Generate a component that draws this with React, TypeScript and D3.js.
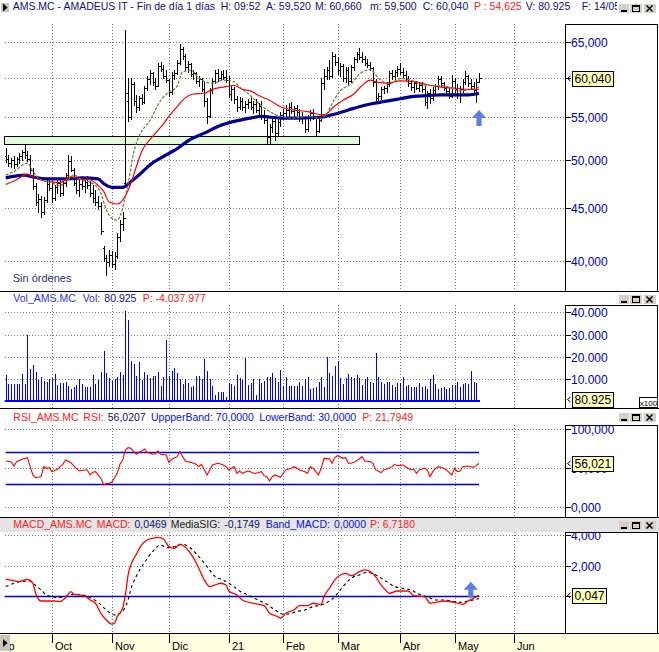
import React, { useEffect, useRef } from 'react';
import * as d3 from 'd3';

// bar 0 = 08/09/2020 ... last bar = 14/05/2021 (daily bars)
const monthLabels = ['Sep', 'Oct', 'Nov', 'Dic', '21', 'Feb', 'Mar', 'Abr', 'May', 'Jun'];
const monthStarts = [-5, 17, 39, 60, 82, 102, 122, 145, 165, 187];

// [open, high, low, close] in euros
const priceBars: number[][] = [
  [50.5, 51.4, 49.8, 50.2], [50.2, 50.6, 49.4, 49.7], [49.7, 50.3, 49.3, 50.0], [50.0, 50.5, 49.2, 49.6],
  [49.6, 50.4, 49.4, 50.1], [50.1, 50.8, 49.7, 50.5], [50.5, 51.2, 50.0, 50.9], [50.9, 51.7, 50.3, 50.6],
  [50.6, 51.0, 49.9, 50.2], [50.2, 50.6, 48.6, 48.9], [48.9, 49.2, 46.9, 47.2], [47.2, 47.6, 45.3, 45.6],
  [45.6, 46.4, 44.6, 45.9], [45.9, 46.2, 44.1, 44.6], [44.6, 46.1, 44.4, 45.8], [45.8, 47.9, 45.6, 47.5],
  [47.5, 48.2, 46.8, 47.0], [47.0, 47.8, 45.6, 46.0], [46.0, 47.3, 45.8, 47.1], [47.1, 47.9, 46.5, 47.6],
  [47.6, 48.0, 46.2, 46.5], [46.5, 47.8, 46.3, 47.6], [47.6, 48.6, 47.2, 48.4], [48.4, 50.6, 48.2, 49.9],
  [49.9, 50.5, 48.8, 49.0], [49.0, 49.2, 47.4, 47.6], [47.6, 48.2, 46.5, 46.8], [46.8, 47.9, 46.2, 47.5],
  [47.5, 48.1, 46.9, 47.2], [47.2, 47.9, 46.6, 47.7], [47.7, 48.3, 47.0, 47.3], [47.3, 47.8, 46.2, 46.5],
  [46.5, 47.4, 45.6, 46.0], [46.0, 46.8, 45.3, 45.6], [45.6, 46.2, 44.9, 45.2], [45.2, 45.6, 42.5, 42.8],
  [41.2, 41.4, 40.0, 40.3], [40.3, 40.6, 38.8, 39.9], [39.9, 41.0, 39.6, 40.6], [40.6, 40.9, 39.5, 39.8],
  [39.8, 40.8, 39.3, 40.5], [40.5, 42.6, 40.3, 42.2], [42.2, 43.8, 41.8, 43.4], [43.4, 44.6, 42.9, 44.0],
  [47.6, 66.7, 47.4, 58.0], [57.0, 60.0, 54.5, 55.0], [55.0, 60.0, 54.8, 59.2], [59.2, 59.4, 56.5, 57.0],
  [57.0, 57.8, 55.6, 56.2], [56.2, 57.7, 55.9, 57.4], [57.4, 57.9, 56.6, 56.9], [56.9, 59.0, 56.8, 58.7],
  [58.7, 60.2, 58.4, 59.8], [59.8, 61.0, 59.2, 60.6], [60.6, 60.8, 59.1, 59.5], [59.5, 60.0, 58.6, 59.0],
  [59.0, 62.0, 58.9, 61.6], [61.6, 62.1, 60.9, 61.2], [61.2, 61.8, 60.0, 60.3], [60.3, 61.0, 59.4, 59.7],
  [59.7, 59.9, 57.6, 58.1], [58.1, 60.8, 57.9, 60.4], [60.4, 61.0, 59.9, 60.7], [60.7, 62.4, 60.5, 62.0],
  [62.0, 64.6, 61.9, 63.9], [63.9, 64.3, 62.5, 63.0], [63.0, 63.2, 61.0, 61.4], [61.4, 62.3, 60.8, 61.9],
  [61.9, 62.0, 60.2, 60.5], [60.5, 61.0, 59.8, 60.6], [60.6, 60.8, 59.3, 59.6], [59.6, 60.2, 59.0, 59.8],
  [59.8, 60.0, 58.3, 58.6], [58.6, 59.4, 56.4, 57.0], [57.0, 57.4, 54.3, 55.2], [55.2, 58.7, 55.0, 58.4],
  [58.4, 60.0, 58.0, 59.6], [59.6, 61.0, 59.3, 60.7], [60.7, 61.2, 59.6, 60.0], [60.0, 60.9, 59.7, 60.5],
  [60.5, 61.1, 59.8, 60.1], [60.1, 61.0, 59.4, 59.7], [59.7, 60.3, 57.5, 57.9], [57.9, 59.0, 57.2, 58.5],
  [58.5, 58.8, 56.8, 57.3], [57.3, 57.6, 55.8, 56.3], [56.3, 57.5, 56.0, 57.0], [57.0, 57.4, 55.9, 56.2],
  [56.2, 57.0, 55.6, 56.6], [56.6, 57.3, 56.1, 56.9], [56.9, 57.6, 56.0, 56.3], [56.3, 57.0, 55.5, 56.6],
  [56.6, 57.3, 55.6, 55.9], [55.9, 56.8, 55.4, 56.4], [56.4, 57.0, 54.8, 55.1], [55.1, 55.9, 54.3, 54.7],
  [54.7, 55.0, 51.9, 52.6], [52.6, 54.2, 52.0, 53.8], [53.8, 55.2, 53.2, 54.6], [54.6, 55.0, 52.3, 53.1],
  [53.1, 54.8, 52.9, 54.4], [54.4, 55.6, 54.0, 55.3], [55.3, 56.0, 54.8, 55.5], [55.5, 56.5, 55.1, 55.9],
  [55.9, 56.7, 55.2, 56.3], [56.3, 56.9, 55.5, 55.8], [55.8, 56.4, 55.0, 56.1], [56.1, 56.5, 55.3, 55.6],
  [55.6, 56.0, 54.6, 55.0], [55.0, 55.6, 54.3, 54.9], [54.9, 55.2, 53.2, 53.6], [53.6, 55.3, 53.4, 55.0],
  [55.0, 55.9, 54.7, 55.5], [55.5, 56.0, 54.8, 55.1], [55.1, 55.2, 52.9, 53.4], [53.4, 55.0, 53.2, 54.7],
  [54.7, 60.0, 54.5, 59.3], [59.3, 61.2, 58.5, 60.2], [60.2, 61.5, 59.8, 61.0], [61.0, 62.4, 59.9, 60.3],
  [60.3, 63.5, 60.1, 63.0], [63.0, 63.3, 61.8, 62.2], [62.2, 62.8, 60.5, 61.0], [61.0, 62.0, 60.2, 61.6],
  [61.6, 61.9, 59.6, 60.0], [60.0, 61.4, 59.5, 61.0], [61.0, 61.5, 59.2, 59.6], [59.6, 61.7, 59.4, 61.4],
  [61.4, 62.9, 61.1, 62.6], [62.6, 63.6, 62.1, 63.3], [63.3, 64.1, 62.5, 62.8], [62.8, 63.5, 62.2, 62.6],
  [62.6, 63.0, 61.7, 62.0], [62.0, 62.6, 61.5, 61.8], [61.8, 62.2, 61.0, 61.3], [61.3, 61.4, 59.0, 59.4],
  [59.4, 59.8, 57.0, 57.4], [57.4, 58.0, 56.7, 57.6], [57.6, 58.8, 57.3, 58.5], [58.5, 59.0, 58.0, 58.7],
  [58.7, 59.5, 58.2, 59.2], [59.2, 60.9, 59.0, 60.6], [60.6, 61.1, 59.9, 60.3], [60.3, 61.0, 59.8, 60.8],
  [60.8, 61.6, 60.3, 61.2], [61.2, 62.0, 60.5, 60.8], [60.8, 61.3, 60.1, 60.4], [60.4, 60.9, 59.6, 59.9],
  [59.9, 60.3, 59.0, 59.3], [59.3, 59.7, 58.4, 58.8], [58.8, 59.6, 58.2, 59.3], [59.3, 59.6, 58.5, 58.7],
  [58.7, 59.5, 58.3, 59.1], [59.1, 59.4, 58.1, 58.5], [58.5, 59.0, 56.5, 56.9], [56.9, 58.3, 56.1, 58.0],
  [58.0, 58.6, 56.8, 57.4], [57.4, 58.8, 57.2, 58.4], [58.4, 59.2, 58.0, 58.9], [58.9, 60.3, 58.6, 59.9],
  [59.9, 60.2, 59.0, 59.3], [59.3, 59.5, 58.4, 58.7], [58.7, 59.0, 57.8, 58.3], [58.3, 58.7, 57.4, 57.7],
  [57.7, 60.4, 57.5, 59.6], [59.6, 60.0, 58.2, 58.6], [58.6, 59.2, 57.4, 57.8], [57.8, 58.9, 56.9, 58.5],
  [58.5, 59.9, 58.2, 59.5], [59.5, 60.9, 59.2, 60.2], [60.2, 60.4, 59.0, 59.3], [59.3, 59.9, 58.6, 59.0],
  [59.0, 59.5, 58.0, 58.4], [58.4, 59.8, 56.9, 59.5], [59.52, 60.66, 59.5, 60.04],
];

// moving averages, [bar, value]
const maFast = [
  [0, 48.4], [3, 48.8], [8, 49.7], [10, 48.8], [13, 47.9], [16, 47.7], [20, 47.3], [23, 47.9], [25, 48.4],
  [28, 47.9], [32, 47.5], [35, 46.5], [37, 44.8], [39, 44.0], [41, 43.8], [42, 44.2], [45, 47.5], [47, 50.8],
  [49, 52.7], [53, 54.6], [57, 57.1], [59, 57.9], [63, 58.9], [65, 60.8], [68, 61.0], [71, 60.0], [74, 59.4],
  [76, 59.3], [80, 59.7], [84, 59.5], [86, 58.8], [90, 57.7], [93, 56.7], [97, 55.7], [101, 55.1], [106, 54.9],
  [111, 55.1], [116, 54.9], [118, 55.4], [120, 56.7], [123, 58.3], [127, 59.2], [130, 60.5], [134, 61.1],
  [137, 60.0], [141, 59.2], [145, 59.9], [149, 59.7], [152, 59.2], [156, 59.0], [160, 59.0], [163, 58.8],
  [167, 58.3], [171, 58.5], [174, 58.8],
];
const maMid = [
  [0, 47.4], [4, 47.9], [8, 48.5], [10, 48.2], [14, 47.8], [16, 47.7], [20, 47.6], [24, 48.2], [27, 48.0],
  [31, 47.9], [34, 47.3], [36, 46.7], [38, 45.6], [41, 45.4], [43, 45.8], [46, 47.5], [48, 49.3], [50, 51.0],
  [54, 52.7], [58, 54.2], [60, 55.1], [63, 56.3], [65, 57.1], [69, 57.9], [73, 58.0], [76, 58.5], [80, 58.8],
  [84, 59.0], [87, 58.5], [90, 58.3], [93, 57.7], [97, 57.1], [101, 56.3], [106, 55.9], [111, 55.7],
  [116, 55.3], [118, 55.4], [120, 56.1], [124, 57.1], [128, 57.9], [131, 59.0], [134, 59.7], [136, 59.5],
  [140, 59.3], [145, 59.6], [150, 59.5], [155, 59.1], [160, 58.8], [164, 58.7], [170, 58.5], [174, 58.5],
];
const maSlow = [
  [0, 48.1], [7, 48.4], [10, 48.2], [16, 48.0], [23, 48.0], [28, 48.1], [34, 48.0], [36, 47.5], [39, 47.1],
  [43, 47.1], [46, 47.7], [49, 48.4], [53, 49.5], [59, 50.6], [63, 51.3], [68, 52.4], [73, 53.1], [78, 53.9],
  [84, 54.5], [90, 54.9], [94, 55.1], [101, 54.9], [108, 54.9], [116, 55.0], [120, 55.3], [126, 55.9],
  [130, 56.3], [135, 56.7], [140, 57.0], [145, 57.3], [150, 57.6], [155, 57.7], [160, 57.8], [164, 57.8],
  [170, 57.8], [174, 58.0],
];
const supportZone = [51.9, 52.75];
const zoneEndBar = 130;
const priceTicks = [40, 45, 50, 55, 60, 65];

// volume, thousands (axis x100)
const volumes = [
  11.9, 7.9, 7.9, 7.9, 7.9, 7.9, 12.4, 7.9, 29.9, 14.6, 16.4, 13.4, 9.7, 10.9, 9.4, 8.9, 10.3, 10.4, 12.4, 7.4,
  8.2, 8.2, 8.9, 7.0, 5.7, 6.7, 7.4, 10.0, 7.9, 6.4, 6.4, 6.4, 11.9, 7.7, 9.7, 13.4, 22.8, 12.7, 10.4, 9.4,
  10.0, 11.2, 13.4, 11.9, 40.6, 36.6, 18.3, 16.9, 11.5, 17.9, 9.7, 13.4, 11.9, 10.4, 11.5, 11.5, 13.4, 7.0, 10.9, 27.6,
  11.5, 13.9, 15.2, 13.0, 10.0, 7.9, 10.0, 8.5, 6.7, 7.0, 11.5, 11.5, 10.0, 19.1, 13.9, 10.0, 7.0, 3.0, 4.3, 4.3,
  4.3, 2.2, 8.5, 7.9, 7.0, 11.9, 10.4, 9.7, 19.7, 7.4, 8.2, 10.0, 3.0, 10.0, 8.2, 9.4, 10.9, 11.2, 13.0, 10.4,
  8.9, 14.2, 7.0, 11.2, 7.0, 7.0, 7.0, 7.0, 8.9, 7.0, 10.0, 10.9, 5.7, 6.0, 6.7, 8.9, 10.9, 6.4, 20.2, 13.0,
  11.5, 16.0, 18.4, 10.4, 7.9, 10.4, 12.4, 10.9, 10.4, 11.9, 10.4, 7.4, 10.0, 10.9, 8.6, 8.2, 21.6, 10.9, 8.6, 7.9,
  8.6, 8.6, 7.4, 6.4, 8.2, 8.2, 10.9, 7.0, 7.4, 6.4, 6.4, 6.7, 8.2, 6.4, 7.0, 5.5, 10.0, 11.9, 7.9, 5.5,
  6.0, 6.7, 5.5, 6.0, 7.4, 7.4, 8.9, 6.4, 7.9, 8.5, 7.9, 13.9, 8.6, 8.5, 0.8,
];
const volumeTicks = [10, 20, 30, 40];

const rsiPoints = [
  [0, 59.1], [2, 58.3], [3, 52.8], [4, 58.3], [6, 61.3], [8, 63.4], [9, 51.9], [10, 41.3], [11, 37.8], [13, 39.1],
  [14, 51.9], [15, 49.8], [16, 50.6], [17, 45.5], [19, 48.5], [20, 51.9], [21, 54.9], [22, 60.4], [24, 57.0],
  [25, 52.8], [26, 49.8], [27, 46.4], [29, 47.7], [30, 47.7], [31, 41.3], [32, 44.7], [33, 45.5], [35, 37.0],
  [36, 28.5], [37, 30.2], [38, 30.6], [39, 31.9], [41, 43.4], [42, 54.9], [43, 60.4], [44, 73.2], [45, 76.2],
  [46, 75.4], [48, 67.7], [49, 70.2], [50, 71.9], [51, 74.5], [52, 70.2], [54, 67.7], [55, 68.5], [56, 71.9],
  [57, 67.7], [59, 66.8], [60, 57.4], [61, 61.3], [63, 64.7], [64, 71.1], [66, 59.1], [68, 57.4], [70, 54.9],
  [71, 51.9], [72, 54.9], [74, 41.3], [75, 47.7], [76, 54.0], [78, 56.2], [79, 55.3], [80, 54.0], [81, 51.9],
  [82, 47.7], [84, 51.9], [85, 43.4], [86, 46.4], [87, 43.4], [89, 46.4], [90, 45.5], [91, 43.4], [92, 43.4],
  [94, 45.5], [95, 40.4], [96, 39.1], [97, 33.6], [98, 39.1], [99, 41.3], [101, 38.3], [102, 43.4], [103, 47.7],
  [105, 49.8], [106, 51.9], [107, 49.8], [108, 47.7], [110, 45.5], [111, 43.4], [112, 51.9], [113, 49.8],
  [114, 45.5], [115, 41.3], [116, 49.8], [117, 62.5], [119, 62.0], [120, 56.2], [121, 63.4], [122, 65.9],
  [124, 62.5], [125, 63.4], [126, 56.2], [127, 56.2], [128, 57.4], [130, 61.7], [131, 64.7], [132, 59.1],
  [134, 58.3], [135, 56.2], [136, 47.7], [138, 44.3], [139, 47.7], [141, 49.8], [142, 51.9], [143, 54.9],
  [144, 53.2], [146, 54.0], [147, 51.9], [149, 47.7], [150, 48.9], [151, 43.4], [152, 47.7], [154, 49.8],
  [155, 47.7], [156, 39.1], [157, 45.5], [158, 49.8], [159, 51.9], [161, 49.8], [162, 47.7], [164, 41.3],
  [165, 49.8], [166, 45.5], [167, 46.4], [168, 51.9], [170, 52.8], [171, 51.9], [172, 51.0], [173, 53.5],
  [174, 56.0207],
];
const rsiBands = [70, 30];
const rsiTicks = [0, 50, 100];

const macdPoints = [
  [0, 1.12], [3, 1.01], [5, 0.95], [8, 1.10], [10, 0.84], [11, 0.18], [13, -0.33], [15, -0.33], [18, -0.33],
  [20, -0.37], [22, -0.11], [24, 0.29], [25, 0.11], [27, 0.07], [29, 0.0], [31, -0.26], [33, -0.48], [35, -1.14],
  [37, -1.58], [39, -1.85], [40, -1.80], [41, -1.36], [43, -0.81], [44, 0.07], [45, 1.39], [46, 2.05], [48, 2.75],
  [50, 3.37], [52, 3.70], [54, 3.81], [56, 3.87], [58, 3.76], [60, 3.26], [62, 3.15], [64, 3.41], [67, 3.04],
  [69, 2.53], [71, 1.83], [73, 1.06], [75, 0.62], [77, 0.73], [79, 0.84], [81, 0.73], [82, 0.33], [85, 0.07],
  [87, -0.26], [91, -0.48], [95, -0.64], [97, -1.14], [100, -1.36], [101, -1.47], [103, -1.14], [106, -0.92],
  [108, -0.64], [111, -0.64], [113, -0.48], [116, -0.55], [117, -0.04], [119, 0.5], [121, 1.06], [123, 1.39],
  [125, 1.50], [127, 1.34], [128, 1.39], [130, 1.61], [132, 1.72], [134, 1.61], [136, 1.28], [138, 0.73],
  [140, 0.33], [141, 0.18], [144, 0.33], [146, 0.33], [148, 0.33], [150, 0.02], [154, -0.04], [156, -0.48],
  [158, -0.42], [161, -0.33], [165, -0.42], [168, -0.55], [170, -0.33], [172, -0.15], [174, 0.0469],
];
const signalPoints = [
  [0, 0.62], [3, 0.84], [5, 0.95], [9, 0.99], [10, 0.84], [13, 0.40], [15, 0.07], [19, -0.11], [22, -0.04],
  [25, 0.11], [28, 0.07], [31, -0.11], [34, -0.42], [37, -0.92], [40, -1.25], [42, -1.14], [45, -0.26],
  [46, 0.45], [48, 1.3], [51, 2.2], [54, 2.93], [57, 3.37], [59, 3.19], [62, 3.26], [65, 3.41], [68, 3.15],
  [71, 2.60], [74, 1.94], [77, 1.28], [80, 1.06], [83, 0.73], [86, 0.33], [89, 0.07], [92, -0.20], [96, -0.55],
  [99, -0.92], [102, -1.21], [105, -1.14], [107, -1.03], [110, -0.92], [113, -0.70], [116, -0.59], [119, -0.33],
  [121, -0.04], [124, 0.62], [127, 1.17], [130, 1.39], [133, 1.56], [136, 1.39], [140, 0.95], [143, 0.62],
  [146, 0.51], [149, 0.40], [152, 0.11], [155, -0.04], [158, -0.26], [161, -0.26], [164, -0.33], [167, -0.42],
  [170, -0.33], [174, -0.17],
];
const macdTicks = [0, 2, 4];

// buy-signal arrows: [bar, value at arrow tip]
const priceSignals = [[174, 55.9]];
const macdSignals = [[171, 0.94]];

// header texts: [text, x, colour]
const NAVY = '#10107a';
const RED = '#ff2020';
const BLUE = '#1010e0';
const mainHeader = [
  ['AMS.MC - AMADEUS IT - Fin de día 1 días', 12.7, NAVY], ['H: 09:52', 220.7, NAVY], ['A: 59,520', 266, NAVY],
  ['M: 60,660', 311.7, NAVY], ['m: 59,500', 370, NAVY], ['C: 60,040', 422.7, NAVY], ['P : 54,625', 474, RED],
  ['V: 80.925', 519.3, NAVY], ['F: 14/05', 581.7, NAVY],
];
const volHeader = [['Vol_AMS.MC', 13.3, '#3434e0'], ['Vol:', 82.7, '#3434e0'], ['80.925', 104.3, NAVY], ['P: -4.037.977', 142.7, RED]];
const rsiHeader = [
  ['RSI_AMS.MC', 13.3, RED], ['RSI:', 83.3, RED], ['56,0207', 106, NAVY], ['UppperBand: 70,0000', 151, BLUE],
  ['LowerBand: 30,0000', 259.3, BLUE], ['P: 21,7949', 362.3, RED],
];
const macdHeader = [
  ['MACD_AMS.MC', 13.3, RED], ['MACD:', 96.7, RED], ['0,0469', 132.7, NAVY], ['MediaSIG:', 170.7, '#202020'],
  ['-0,1749', 213.3, NAVY], ['Band_MACD:', 265.7, BLUE], ['0,0000', 331.7, BLUE], ['P: 6,7180', 370, RED],
];

const FONT = '"Liberation Sans", Arial, sans-serif';

const App = () => {
  const svgRef = useRef<SVGSVGElement | null>(null);

  useEffect(() => {
    const svg = d3.select(svgRef.current);
    svg.selectAll('*').remove();

    const es = d3.formatLocale({ decimal: ',', thousands: '.', grouping: [3], currency: ['', ''] });
    const f3 = es.format(',.3f');
    const f0 = es.format(',.0f');

    const N = priceBars.length;
    const x = d3.scaleLinear().domain([0, N - 1]).range([5.7, 479]);
    const cx = (i: number) => Math.round(x(i)) + 0.5;
    const snap = (v: number) => Math.round(v) + 0.5;

    const yPrice = d3.scaleLog().domain([40, 65]).range([261.3, 41.7]);
    const yVol = d3.scaleLinear().domain([0, 40]).range([401.6, 312.3]);
    const yRsi = d3.scaleLinear().domain([0, 100]).range([507.3, 429]);
    const yMacd = d3.scaleLinear().domain([0, 4]).range([596, 535.4]);

    const AXIS_X = 565.5;
    const RIGHT = 657.5;
    const PLOT_L = 5;

    const panels = [
      { top: 24, bottom: 291, btn: 4 },
      { top: 305, bottom: 408, btn: 295 },
      { top: 425, bottom: 517, btn: 413 },
      { top: 532, bottom: 633, btn: 521 },
    ];

    svg.append('rect').attr('width', 659).attr('height', 652).attr('fill', '#fff');
    // active panel title band (MACD)
    svg.append('rect').attr('x', 0).attr('y', 518).attr('width', 659).attr('height', 14).attr('fill', '#e4e4e4');

    // --- GRID ---
    const grid = svg.append('g')
      .attr('stroke', '#808080').attr('stroke-dasharray', '1,2').attr('shape-rendering', 'crispEdges');
    panels.forEach(p => {
      monthStarts.forEach(m => {
        if (m < 0) return;
        grid.append('line').attr('x1', cx(m)).attr('x2', cx(m)).attr('y1', p.top).attr('y2', p.bottom);
      });
    });
    const hGrid = (yv: number) => grid.append('line')
      .attr('x1', PLOT_L).attr('x2', AXIS_X).attr('y1', snap(yv)).attr('y2', snap(yv));
    priceTicks.forEach(t => hGrid(yPrice(t)));
    volumeTicks.forEach(t => hGrid(yVol(t)));
    rsiTicks.forEach(t => hGrid(yRsi(t)));
    macdTicks.forEach(t => hGrid(yMacd(t)));

    // --- SUPPORT ZONE ---
    const zTop = snap(yPrice(supportZone[1]));
    const zBot = snap(yPrice(supportZone[0]));
    svg.append('rect')
      .attr('x', 4.5).attr('y', zTop).attr('width', snap(x(zoneEndBar)) - 4.5).attr('height', zBot - zTop)
      .attr('fill', '#e4f8dc').attr('stroke', '#000').attr('shape-rendering', 'crispEdges');

    // --- OHLC BARS ---
    let barPath = '';
    priceBars.forEach(([o, h, l, c], i) => {
      const xi = cx(i);
      barPath += `M${xi},${Math.round(yPrice(h))}V${Math.round(yPrice(l)) + 1}`;
      barPath += `M${xi - 2},${snap(yPrice(o))}H${xi}`;
      barPath += `M${xi},${snap(yPrice(c))}H${xi + 2}`;
    });
    svg.append('path').attr('d', barPath).attr('stroke', '#000').attr('fill', 'none').attr('shape-rendering', 'crispEdges');

    // --- MOVING AVERAGES ---
    const maLine = d3.line<number[]>().x(d => x(d[0])).y(d => yPrice(d[1])).curve(d3.curveMonotoneX);
    svg.append('path').attr('d', maLine(maSlow)).attr('fill', 'none').attr('stroke', '#000099').attr('stroke-width', 3.2);
    svg.append('path').attr('d', maLine(maMid)).attr('fill', 'none').attr('stroke', '#ff0000').attr('stroke-width', 1.2);
    svg.append('path').attr('d', maLine(maFast)).attr('fill', 'none').attr('stroke', '#76763a')
      .attr('stroke-width', 1.2).attr('stroke-dasharray', '3,1.5');

    // --- VOLUME ---
    let volPath = '';
    volumes.forEach((v, i) => { volPath += `M${cx(i)},${yVol(0)}V${Math.round(yVol(v))}`; });
    svg.append('path').attr('d', volPath).attr('stroke', '#0000ff').attr('fill', 'none').attr('shape-rendering', 'crispEdges');
    svg.append('line').attr('x1', x(0) - 1).attr('x2', x(N - 1) + 1).attr('y1', 401).attr('y2', 401)
      .attr('stroke', '#0000ff').attr('stroke-width', 2);

    // --- RSI ---
    rsiBands.forEach(b => svg.append('line')
      .attr('x1', x(0)).attr('x2', x(N - 1)).attr('y1', snap(yRsi(b))).attr('y2', snap(yRsi(b)))
      .attr('stroke', '#0000cc').attr('stroke-width', 1.5));
    const rsiLine = d3.line<number[]>().x(d => x(d[0])).y(d => yRsi(d[1]));
    svg.append('path').attr('d', rsiLine(rsiPoints)).attr('fill', 'none').attr('stroke', '#ff0000').attr('stroke-width', 1.1);

    // --- MACD ---
    svg.append('line').attr('x1', x(0) - 1).attr('x2', x(N - 1)).attr('y1', snap(yMacd(0))).attr('y2', snap(yMacd(0)))
      .attr('stroke', '#0000cc').attr('stroke-width', 1.5);
    const macdLine = d3.line<number[]>().x(d => x(d[0])).y(d => yMacd(d[1])).curve(d3.curveMonotoneX);
    svg.append('path').attr('d', macdLine(signalPoints)).attr('fill', 'none').attr('stroke', '#000')
      .attr('stroke-width', 1.1).attr('stroke-dasharray', '3,3');
    svg.append('path').attr('d', macdLine(macdPoints)).attr('fill', 'none').attr('stroke', '#ff0000').attr('stroke-width', 1.3);

    // --- SIGNAL ARROWS ---
    const arrow = (ax: number, tip: number) => svg.append('path')
      .attr('d', `M${ax - 7.2},${tip + 8}L${ax},${tip}L${ax + 7.2},${tip + 8}H${ax + 2.6}V${tip + 16}H${ax - 2.6}V${tip + 8}Z`)
      .attr('fill', '#5b80e0');
    priceSignals.forEach(([b, v]) => arrow(x(b), yPrice(v)));
    macdSignals.forEach(([b, v]) => arrow(x(b), yMacd(v)));

    // --- FRAMES ---
    const frame = svg.append('g').attr('stroke', '#000').attr('fill', 'none').attr('shape-rendering', 'crispEdges');
    panels.forEach(p => {
      frame.append('line').attr('x1', 0).attr('x2', 659).attr('y1', p.bottom + 0.5).attr('y2', p.bottom + 0.5);
      frame.append('path').attr('d', `M${AXIS_X},${p.bottom}V${p.top + 0.5}H${RIGHT}V${p.bottom}`);
    });

    // --- RIGHT AXES ---
    const axisGroup = (p: { top: number; bottom: number }, id: string) => {
      svg.append('clipPath').attr('id', id).append('rect')
        .attr('x', AXIS_X - 6).attr('y', p.top + 1).attr('width', RIGHT - AXIS_X + 6).attr('height', p.bottom - p.top - 1);
      return svg.append('g').attr('clip-path', `url(#${id})`);
    };
    // tick labels hidden behind the current-value box are not drawn (hideNear)
    const addTicks = (g: any, vals: number[], scale: (v: number) => number, fmt: (v: number) => string, hideNear?: number) => {
      vals.forEach(v => {
        const yy = snap(scale(v));
        g.append('line').attr('x1', AXIS_X).attr('x2', AXIS_X + 5).attr('y1', yy).attr('y2', yy)
          .attr('stroke', '#000').attr('shape-rendering', 'crispEdges');
        if (hideNear !== undefined && Math.abs(yy - hideNear) < 8) return;
        g.append('text').attr('x', 571).attr('y', yy).attr('dy', '0.36em')
          .attr('font-family', FONT).attr('font-size', 12).attr('fill', '#0000b4').text(fmt(v));
      });
    };
    const valueBox = (g: any, yy: number, label: string, w: number) => {
      const yc = snap(yy);
      g.append('path').attr('d', `M${AXIS_X + 5},${yc - 2.5}L${AXIS_X + 2},${yc}L${AXIS_X + 5},${yc + 2.5}`)
        .attr('stroke', '#000').attr('fill', 'none');
      g.append('rect').attr('x', 572.5).attr('y', yc - 7.5).attr('width', w).attr('height', 15)
        .attr('fill', '#ffffc0').attr('stroke', '#000').attr('shape-rendering', 'crispEdges');
      g.append('text').attr('x', 574.5).attr('y', yc).attr('dy', '0.36em')
        .attr('font-family', FONT).attr('font-size', 12).attr('fill', '#000').text(label);
    };

    const lastClose = priceBars[N - 1][3];
    const gP = axisGroup(panels[0], 'clipP');
    addTicks(gP, priceTicks, yPrice, f3, snap(yPrice(lastClose)));
    valueBox(gP, yPrice(lastClose), f3(lastClose), 41);

    const gV = axisGroup(panels[1], 'clipV');
    addTicks(gV, volumeTicks, yVol, v => f0(v * 1000));
    valueBox(gV, yVol(0) - 3, '80.925', 41);
    gV.append('rect').attr('x', 639.5).attr('y', 397.5).attr('width', 18).attr('height', 10)
      .attr('fill', '#fff').attr('stroke', '#000').attr('shape-rendering', 'crispEdges');
    gV.append('text').attr('x', 648.5).attr('y', 405.5).attr('text-anchor', 'middle')
      .attr('font-family', FONT).attr('font-size', 8).attr('fill', '#000').text('x100');

    const gR = axisGroup(panels[2], 'clipR');
    addTicks(gR, rsiTicks, yRsi, f3);
    const lastRsi = rsiPoints[rsiPoints.length - 1][1];
    valueBox(gR, yRsi(lastRsi), f3(lastRsi), 41);

    const gM = axisGroup(panels[3], 'clipM');
    addTicks(gM, macdTicks, yMacd, f3, snap(yMacd(0)));
    const lastMacd = macdPoints[macdPoints.length - 1][1];
    valueBox(gM, yMacd(lastMacd), f3(lastMacd), 34);

    // --- PANEL HEADERS ---
    // chunks sit at their measured x, pushed right only when the previous chunk is wider
    let headClip = 0;
    const header = (items: (string | number)[][], baseline: number, clipW?: number) => {
      const g = svg.append('g');
      if (clipW) {
        const id = `clipHead${headClip++}`;
        svg.append('clipPath').attr('id', id).append('rect').attr('x', 0).attr('y', 0).attr('width', clipW).attr('height', 20);
        g.attr('clip-path', `url(#${id})`);
      }
      let prevEnd = 0;
      items.forEach(([t, tx, col]) => {
        const xx = Math.max(tx as number, prevEnd + 4);
        const node = g.append('text').attr('x', xx).attr('y', baseline)
          .attr('font-family', FONT).attr('font-size', 10.5).attr('fill', col as string).text(t as string);
        const el = node.node() as SVGTextElement;
        prevEnd = xx + (el ? el.getComputedTextLength() : 0);
      });
    };
    header(mainHeader, 10, 617);
    header(volHeader, 302);
    header(rsiHeader, 420.5);
    header(macdHeader, 528);

    svg.append('text').attr('x', 12.7).attr('y', 282).attr('font-family', FONT).attr('font-size', 11)
      .attr('fill', '#2a3478').text('Sin órdenes');

    // window buttons
    panels.forEach(p => {
      const by = p.btn;
      const b = svg.append('g').attr('shape-rendering', 'crispEdges');
      [[619, 10], [630, 12], [643.5, 12]].forEach(([bx, bw]) => {
        b.append('rect').attr('x', bx).attr('y', by).attr('width', bw).attr('height', 9).attr('fill', '#d4d0c8');
      });
      b.append('rect').attr('x', 621).attr('y', by + 6).attr('width', 6).attr('height', 2).attr('fill', '#000');
      b.append('rect').attr('x', 632.5).attr('y', by + 1.5).attr('width', 7).attr('height', 6)
        .attr('fill', 'none').attr('stroke', '#000');
      b.append('rect').attr('x', 632).attr('y', by + 1).attr('width', 8).attr('height', 2).attr('fill', '#000');
      b.append('path').attr('d', `M${646.5},${by + 1.5}L${652.5},${by + 7.5}M${652.5},${by + 1.5}L${646.5},${by + 7.5}`)
        .attr('stroke', '#000').attr('stroke-width', 1.5).attr('shape-rendering', 'auto');
    });

    // --- TIME AXIS ---
    svg.append('rect').attr('x', 0).attr('y', 634).attr('width', 659).attr('height', 18).attr('fill', '#ffffe0');
    svg.append('clipPath').attr('id', 'clipTime').append('rect').attr('x', 10).attr('y', 634).attr('width', 649).attr('height', 18);
    const timeAxis = svg.append('g').attr('clip-path', 'url(#clipTime)');
    monthStarts.forEach((m, k) => {
      const mx = cx(m);
      timeAxis.append('line').attr('x1', mx).attr('x2', mx).attr('y1', 634).attr('y2', 643)
        .attr('stroke', '#000').attr('shape-rendering', 'crispEdges');
      timeAxis.append('text').attr('x', mx + 2.5).attr('y', 650)
        .attr('font-family', FONT).attr('font-size', 11).attr('fill', '#000').text(monthLabels[k]);
    });

    // small scroll/expand icons
    const icon = (ix: number, iy: number, w: number, h: number) => {
      svg.append('rect').attr('x', ix).attr('y', iy).attr('width', w).attr('height', h).attr('fill', '#c8c4bc');
      const mx = ix + w / 2, my = iy + h / 2;
      svg.append('path').attr('d', `M${mx - 2},${my - 4}L${mx + 2.5},${my}L${mx - 2},${my + 4}Z`).attr('fill', '#000');
    };
    icon(1, 3, 8, 9);
    icon(0, 635, 10, 16);
  }, []);

  return (
    <svg ref={svgRef} width={659} height={652}
      style={{ position: 'absolute', left: 0, top: 0, display: 'block' }} />
  );
};

export default App;
